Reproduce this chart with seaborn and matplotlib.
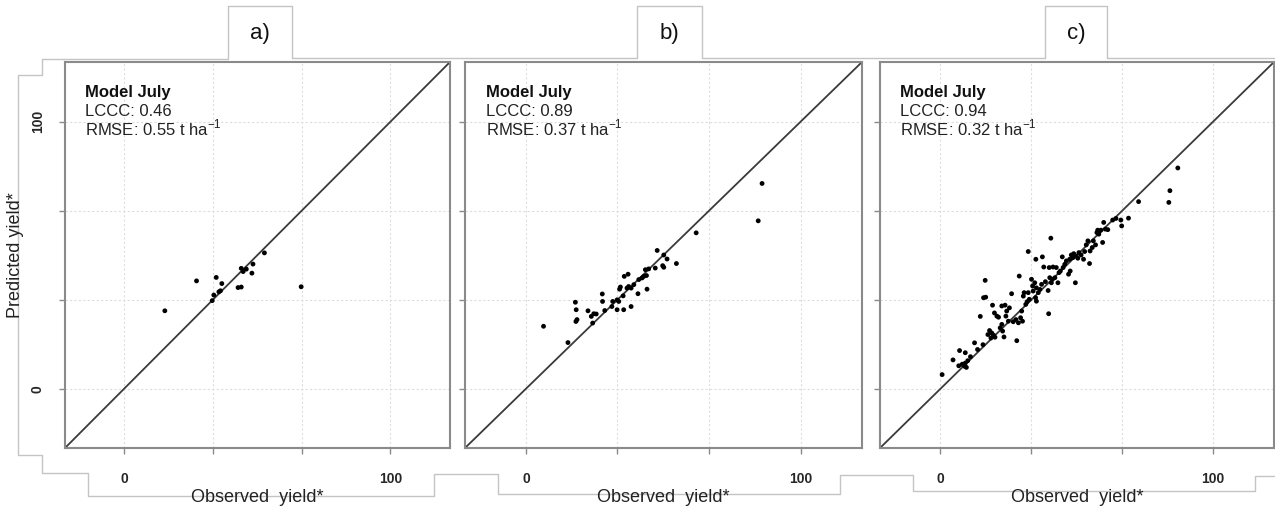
import numpy as np
import pandas as pd
import matplotlib
matplotlib.use("Agg")
import matplotlib.pyplot as plt
from matplotlib.transforms import Affine2D
from matplotlib.lines import Line2D
import seaborn as sns

# ---------------- data ----------------
panel_labels = ["a)", "b)", "c)"]
model_name = "Model July"
lccc_values = ["0.46", "0.89", "0.94"]
rmse_values = ["0.55", "0.37", "0.32"]
tick_values = [0, 100 / 3, 200 / 3, 100]
tick_labels = ["0", "", "", "100"]

obs_a = [15.3, 27.2, 34.6, 36.7, 33.7, 33.1, 35.6, 36.2, 42.8, 44.0, 44.0, 44.7,
         45.9, 48.0, 48.4, 52.7, 66.5]
pred_a = [29.2, 40.4, 41.7, 39.4, 35.1, 33.0, 36.3, 36.7, 37.9, 38.1, 45.1, 43.9,
          44.8, 43.3, 46.7, 50.9, 38.2]

obs_b = [6.4, 15.3, 18.0, 18.3, 18.6, 18.2, 22.6, 23.8, 24.7, 25.6, 24.3, 27.8,
         27.9, 28.7, 31.3, 31.6, 33.2, 33.8, 33.2, 35.6, 35.4, 34.1, 34.4, 35.8,
         37.2, 36.8, 37.4, 38.3, 38.3, 39.3, 40.8, 41.1, 42.3, 42.9, 43.5, 43.9,
         44.1, 44.7, 47.1, 47.8, 49.8, 50.2, 50.2, 51.4, 54.8, 62.0, 84.6, 86.0]
pred_b = [23.4, 17.3, 32.4, 29.6, 25.9, 25.2, 29.2, 27.1, 28.1, 28.0, 24.6, 35.5,
          32.7, 29.3, 30.8, 32.7, 33.3, 32.7, 29.6, 29.6, 34.8, 37.3, 38.1, 42.1,
          42.9, 37.7, 38.3, 37.7, 30.8, 39.0, 35.6, 40.9, 41.5, 42.1, 44.6, 42.4,
          37.3, 44.9, 45.2, 51.8, 46.1, 45.5, 50.1, 48.6, 46.9, 58.4, 62.9, 76.9]

obs_c = [0.6, 4.6, 7.0, 9.1, 6.7, 8.3, 8.9, 9.1, 9.5, 12.5, 13.6, 15.6, 14.6, 15.8,
         16.6, 16.4, 17.4, 18.0, 18.5, 18.8, 19.4, 20.0, 19.1, 19.8, 20.7, 21.3,
         21.9, 22.5, 22.8, 23.3, 22.5, 23.7, 24.3, 24.0, 24.9, 25.3, 26.1, 26.7,
         27.7, 28.0, 28.6, 28.9, 29.4, 30.1, 29.8, 30.4, 30.7, 31.3, 31.8, 32.2,
         32.6, 32.2, 33.4, 33.8, 34.0, 34.6, 34.9, 35.2, 35.2, 35.0, 35.9, 36.5,
         37.1, 37.4, 37.9, 38.5, 39.5, 39.7, 39.9, 40.1, 40.5, 40.7, 41.1, 41.3,
         42.0, 42.5, 43.1, 43.5, 44.0, 44.7, 45.0, 45.6, 46.2, 47.0, 47.4, 47.6,
         48.0, 48.6, 48.9, 49.5, 49.8, 50.4, 50.8, 51.6, 52.5, 52.9, 53.5, 54.1,
         54.7, 54.9, 55.7, 56.1, 56.9, 57.4, 57.7, 58.1, 58.3, 58.9, 59.5, 59.9,
         60.5, 61.4, 63.2, 64.4, 66.2, 66.5, 69.0, 72.7, 83.8, 84.2, 87.1,
         10.0, 8.0, 11.0]
pred_c = [5.3, 10.8, 14.3, 13.5, 8.6, 9.0, 8.4, 9.6, 8.0, 17.2, 14.7, 16.5, 27.1,
          34.1, 34.3, 40.6, 20.3, 21.8, 19.0, 20.9, 20.1, 19.3, 31.3, 28.4, 27.2,
          26.8, 22.8, 24.1, 21.6, 19.4, 31.0, 31.3, 29.1, 27.2, 25.3, 30.3, 35.6,
          25.1, 25.9, 18.0, 24.7, 42.2, 26.6, 25.3, 29.1, 34.7, 36.0, 31.6, 32.6,
          36.0, 33.5, 51.4, 41.0, 38.5, 36.6, 39.7, 34.1, 37.8, 32.8, 48.5, 36.0,
          37.2, 39.1, 49.4, 45.6, 40.1, 36.8, 28.1, 45.4, 41.6, 56.4, 39.7, 41.0,
          45.6, 41.6, 45.4, 39.7, 43.5, 44.1, 49.4, 45.4, 46.6, 47.9, 42.9, 48.5,
          44.1, 50.1, 49.1, 50.6, 39.7, 49.7, 48.9, 51.0, 50.1, 48.5, 51.4, 53.9,
          55.4, 46.9, 51.6, 52.9, 55.4, 53.9, 58.5, 59.4, 57.9, 59.1, 59.4, 54.8,
          62.3, 59.8, 59.6, 63.2, 63.8, 63.2, 61.0, 63.9, 70.1, 69.8, 74.2, 82.7,
          10.5, 9.2, 12.0]

panels = [(obs_a, pred_a), (obs_b, pred_b), (obs_c, pred_c)]

# ---------------- style ----------------
sns.set_theme(style="white")
plt.rcParams["font.family"] = ["Liberation Sans", "DejaVu Sans"]
plt.rcParams["mathtext.fontset"] = "custom"
plt.rcParams["mathtext.rm"] = "Liberation Sans"
plt.rcParams["axes.unicode_minus"] = False

W, H = 1275, 508
fig = plt.figure(figsize=(W / 100, H / 100), dpi=100)
px = Affine2D().scale(1 / W, -1 / H).translate(0, 1) + fig.transFigure

# axes boxes in pixels: (left, right)
boxes = [(65, 450), (465, 862), (880, 1274)]
top_px, bot_px = 62, 448
lim = (-22.2, 122.4)

grey_frame = "#8a8a8a"
outline_col = "#c4c4c4"

for i, ((l, r), (obs, pred)) in enumerate(zip(boxes, panels)):
    ax = fig.add_axes([l / W, (H - bot_px) / H, (r - l) / W, (bot_px - top_px) / H])
    df = pd.DataFrame({"observed": obs, "predicted": pred})
    ax.set_xlim(lim)
    ax.set_ylim(lim)
    ax.set_xticks(tick_values)
    ax.set_yticks(tick_values)
    ax.grid(True, color="#dddddd", linestyle=(0, (2, 2)), linewidth=0.8)
    ax.set_axisbelow(True)
    ax.axline((0, 0), slope=1, color="#3a3a3a", linewidth=1.3, zorder=2)
    sns.scatterplot(data=df, x="observed", y="predicted", ax=ax, color="black",
                    s=12, edgecolor="none", linewidth=0, zorder=3, legend=False)
    for sp in ax.spines.values():
        sp.set_color(grey_frame)
        sp.set_linewidth(1.5)
    ax.tick_params(axis="both", which="both", direction="out", length=4.5, width=1,
                   color=grey_frame, bottom=True, left=True)
    ax.set_xticklabels(tick_labels, fontsize=10, fontweight="bold")
    ax.tick_params(axis="x", pad=13)
    if i == 0:
        ax.set_yticklabels(tick_labels, fontsize=10, fontweight="bold",
                           rotation=90, va="center")
        ax.tick_params(axis="y", pad=10)
        ax.set_ylabel("Predicted yield*", fontsize=13, color="#222222", labelpad=5)
    else:
        ax.set_yticklabels([])
        ax.set_ylabel("")
    ax.set_xlabel("Observed  yield*", fontsize=13, color="#222222", labelpad=2)

    ax.text(0.052, 0.909, model_name, transform=ax.transAxes, fontsize=12,
            fontweight="bold", color="#111111", va="baseline", ha="left")
    ax.text(0.052, 0.860, f"LCCC: {lccc_values[i]}", transform=ax.transAxes,
            fontsize=12, color="#222222", va="baseline", ha="left")
    ax.text(0.052, 0.811, f"RMSE: {rmse_values[i]} t ha" + r"$^{\mathregular{-1}}$",
            transform=ax.transAxes, fontsize=12, color="#222222", va="baseline",
            ha="left")

# ---------------- decorative outline & label boxes ----------------
label_boxes = [(228, 292), (637, 702), (1045, 1107)]
for (bl, br), lab in zip(label_boxes, panel_labels):
    fig.add_artist(Line2D([bl, bl, br, br], [58, 6, 6, 58], transform=px,
                          color=outline_col, linewidth=1))
    fig.text((bl + br) / 2 / W, 1 - 33 / H, lab, fontsize=16, color="#111111",
             ha="center", va="center")

top_segments = [([42, 228], [59, 59]), ([292, 637], [58, 58]),
                ([702, 1045], [58, 58]), ([1107, 1275], [58, 58])]
for xs, ys in top_segments:
    fig.add_artist(Line2D(xs, ys, transform=px, color=outline_col, linewidth=1))

outline_x = [42, 42, 18, 18, 42, 42, 88, 88, 434, 434, 498, 498, 840, 840,
             913, 913, 1255, 1255, 1275]
outline_y = [59, 75, 75, 455, 455, 473, 473, 496, 496, 474, 474, 494, 494, 475,
             475, 491, 491, 476, 476]
fig.add_artist(Line2D(outline_x, outline_y, transform=px, color=outline_col,
                      linewidth=1, zorder=0))

fig.savefig("out.png", dpi=100)
